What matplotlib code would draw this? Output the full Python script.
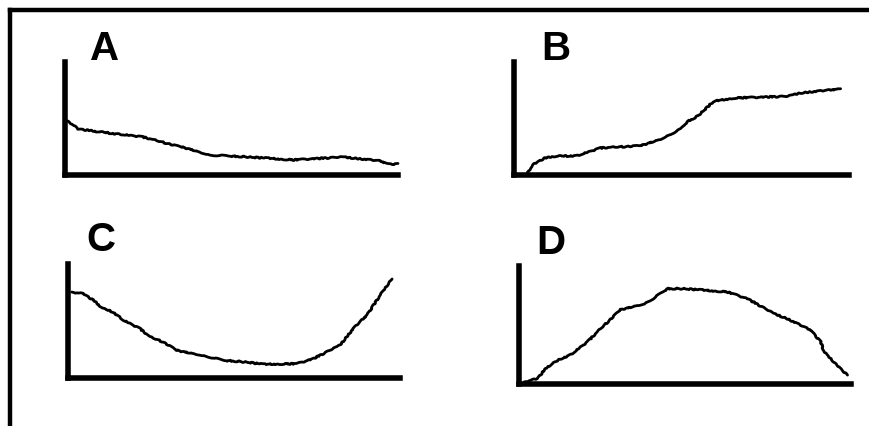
import matplotlib.pyplot as plt
from matplotlib.lines import Line2D

# Datos de las curvas (eje x 0-100, eje y 0-100 respecto a la altura del eje vertical)
labels = ['A', 'B', 'C', 'D']

a_x = [0.9, 3.9, 10.5, 23.4, 33.6, 37.5, 43.5, 55.6, 68.5, 83.5, 94.6, 97.0, 100]
a_y = [47.8, 40.7, 38.1, 33.6, 25.7, 23.0, 17.7, 15.9, 13.3, 15.9, 12.4, 9.7, 9.7]

b_x = [4.0, 6.0, 9.0, 11.9, 18.9, 25.9, 37.8, 43.8, 49.8, 51.7, 54.7, 58.7, 60.7, 65.7, 81.6, 85.6, 97.5]
b_y = [2.4, 9.7, 14.7, 16.5, 17.1, 23.9, 25.9, 31.9, 40.7, 47.2, 51.9, 62.8, 65.8, 68.1, 69.6, 72.6, 76.1]

c_x = [1.1, 4.6, 7.6, 10.6, 13.6, 16.7, 21.7, 24.7, 28.7, 32.7, 39.8, 46.8, 53.8, 58.8, 68.9,
       73.9, 81.9, 85.9, 90.0, 94.0, 97.5]
c_y = [75.4, 73.9, 68.2, 60.8, 57.9, 50.6, 43.2, 36.0, 31.6, 24.3, 20.4, 15.5, 14.0, 12.0, 12.5,
       16.9, 28.7, 43.2, 55.0, 72.5, 87.1]

d_x = [1.5, 5.5, 8.5, 12.6, 15.6, 20.6, 24.6, 30.6, 37.7, 40.7, 44.7, 49.7, 62.7, 68.8, 76.8,
       80.8, 87.9, 90.9, 91.9, 98.9]
d_y = [1.7, 4.5, 14.4, 21.4, 24.8, 35.6, 46.9, 63.0, 68.1, 72.9, 80.8, 80.8, 78.0, 72.3, 59.6,
       55.3, 45.5, 35.6, 27.1, 7.4]

curvas = [(a_x, a_y), (b_x, b_y), (c_x, c_y), (d_x, d_y)]

# Posición de cada panel en píxeles: izquierda, derecha, arriba, abajo
W, H = 869, 427
cajas = [(65, 398, 63, 176), (514, 849, 63, 176), (68, 400, 265, 379), (519, 851, 267, 385)]
# posición de las letras (izquierda, línea base)
pos_letras = [(90, 59.5), (541, 60), (86, 251), (536, 254.5)]

fig = plt.figure(figsize=(W / 100, H / 100), dpi=100)

for (x, y), (x0, x1, y0, y1), lab, (lx, ly) in zip(curvas, cajas, labels, pos_letras):
    ax = fig.add_axes([x0 / W, 1 - y1 / H, (x1 - x0) / W, (y1 - y0) / H])
    ax.patch.set_alpha(0)
    linea, = ax.plot(x, y, color='black', lw=2, solid_capstyle='round', clip_on=False, zorder=1)
    linea.set_sketch_params(scale=0.6, length=14, randomness=10)  # trazo a mano
    ax.set_xlim(0, 100)
    ax.set_ylim(0, 100)
    ax.set_xticks([])
    ax.set_yticks([])
    for lado in ['top', 'right']:
        ax.spines[lado].set_visible(False)
    for lado in ['left', 'bottom']:
        ax.spines[lado].set_linewidth(4)
        ax.spines[lado].set_capstyle('projecting')
        ax.spines[lado].set_zorder(3)
    fig.text(lx / W, 1 - ly / H, lab, fontsize=29, fontweight='bold',
             family='Liberation Sans', ha='left', va='baseline')

# Marco (solo arriba e izquierda)
fig.add_artist(Line2D([10 / W, 10 / W], [0, 1 - 10.5 / H], transform=fig.transFigure,
                      color='black', lw=3.2, solid_capstyle='projecting'))
fig.add_artist(Line2D([10 / W, 1], [1 - 10.5 / H, 1 - 10.5 / H], transform=fig.transFigure,
                      color='black', lw=3.2, solid_capstyle='projecting'))

fig.savefig('out.png', dpi=100)
